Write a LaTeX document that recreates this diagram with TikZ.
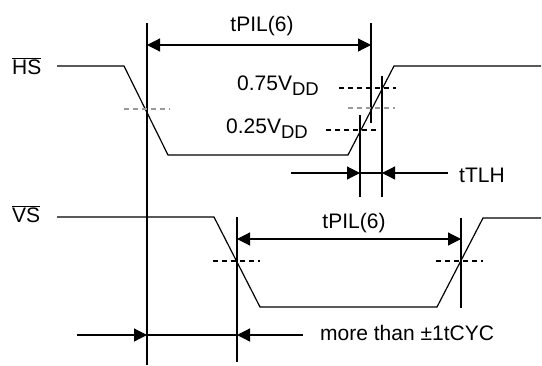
\documentclass[tikz,border=0pt]{standalone}
\usepackage{fontspec}
\setmainfont{Liberation Sans}
\usetikzlibrary{arrows.meta, positioning, calc}

\tikzset{
  sig/.style={line width=1.2pt},
  guide/.style={line width=1.2pt},
  lvl/.style={line width=1.2pt, dash pattern=on 5pt off 4pt},
  midlvl/.style={lvl, gray!80},
  dimtip/.tip={Triangle[length=13pt, width=13pt]},
  dimline/.style={line width=1.2pt},
  lbl/.style={inner sep=0pt, font=\fontsize{21}{24}\selectfont},
}
\newcommand{\vddtxt}{V{\fontsize{18.5}{18}\selectfont\raisebox{-5pt}{DD}}}

\begin{document}
\begin{tikzpicture}[x=1pt, y=-1pt]
  \useasboundingbox (0,0) rectangle (542,365);

  % HS waveform
  \coordinate (hs0) at (57,66);
  \coordinate (hs1) at (124,66);
  \coordinate (hs2) at (168,155);
  \coordinate (hs3) at (348,155);
  \coordinate (hs4) at (394,66);
  \coordinate (hs5) at (541,66);
  \draw[sig] (hs0) -- (hs1) -- (hs2) -- (hs3) -- (hs4) -- (hs5);

  % VS waveform
  \coordinate (vs0) at (57,217);
  \coordinate (vs1) at (214,217);
  \coordinate (vs2) at (260,307);
  \coordinate (vs3) at (437,307);
  \coordinate (vs4) at (483,218);
  \coordinate (vs5) at (541,218);
  \draw[sig] (vs0) -- (vs1) -- (vs2) -- (vs3) -- (vs4) -- (vs5);

  % Signal names
  \node[lbl, anchor=base west] (hsname) at (12,74) {$\overline{\mbox{HS}}$};
  \node[lbl, anchor=base west] (vsname) at (12,222) {$\overline{\mbox{VS}}$};

  % Vertical guide lines
  \coordinate (ga) at (147,23);   \coordinate (gb) at (147,365);
  \coordinate (gc) at (371,23);   \coordinate (gd) at (371,123);
  \coordinate (ge) at (360,115);  \coordinate (gf) at (360,197);
  \coordinate (gg) at (382,76);   \coordinate (gh) at (382,197);
  \coordinate (gi) at (237,217);  \coordinate (gj) at (237,362);
  \coordinate (gk) at (461,218);  \coordinate (gl) at (461,308);
  \draw[guide] (ga) -- (gb);
  \draw[guide] (gc) -- (gd);
  \draw[guide] (ge) -- (gf);
  \draw[guide] (gg) -- (gh);
  \draw[guide] (gi) -- (gj);
  \draw[guide] (gk) -- (gl);

  % Level marks
  \draw[midlvl] (124,109) -- (170,109);
  \draw[midlvl] (348,108) -- (395,108);
  \draw[lvl] (339,88) -- (396,88);
  \draw[lvl] (326,130) -- (376,130);
  \draw[lvl] (213,261) -- (260,261);
  \draw[lvl] (436,261) -- (483,261);
  \node[lbl, anchor=base west] (vhi) at (237,90) {0.75\vddtxt};
  \node[lbl, anchor=base west] (vlo) at (226,133) {0.25\vddtxt};

  % tPIL on HS
  \coordinate (pa) at (147,45);
  \coordinate (pb) at (371,45);
  \draw[dimline, dimtip-dimtip] (pa) -- (pb);
  \node[lbl, anchor=base] (tpila) at (262,31) {tPIL(6)};

  % tPIL on VS
  \coordinate (qa) at (237,239);
  \coordinate (qb) at (461,239);
  \draw[dimline, dimtip-dimtip] (qa) -- (qb);
  \node[lbl, anchor=base] (tpilb) at (354,228) {tPIL(6)};

  % tTLH
  \coordinate (ra) at (291,173);
  \coordinate (rb) at (360,173);
  \coordinate (rc) at (382,173);
  \coordinate (rd) at (448,173);
  \draw[dimline, -dimtip] (ra) -- (rb);
  \draw[dimline] (rb) -- (rc);
  \draw[dimline, -dimtip] (rd) -- (rc);
  \node[lbl, anchor=base west] (ttlh) at (459,182) {tTLH};

  % skew between HS and VS
  \coordinate (sa) at (77,335);
  \coordinate (sb) at (147,335);
  \coordinate (sc) at (237,335);
  \coordinate (sd) at (303,335);
  \draw[dimline, -dimtip] (sa) -- (sb);
  \draw[dimline] (sb) -- (sc);
  \draw[dimline, -dimtip] (sd) -- (sc);
  \node[lbl, anchor=base west] (skew) at (320,340) {more than ±1tCYC};
\end{tikzpicture}
\end{document}
